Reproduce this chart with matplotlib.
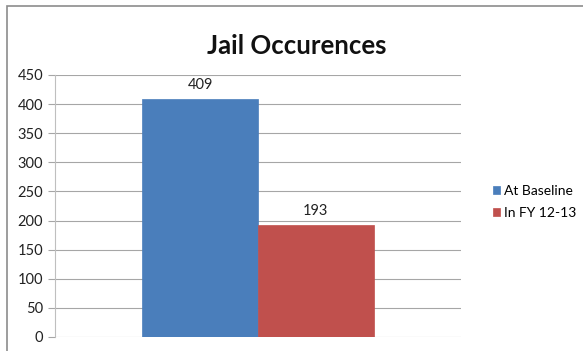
import matplotlib.pyplot as plt
from matplotlib.patches import Rectangle

# Jail occurrence counts
series = ["At Baseline", "In FY 12-13"]
values = [409, 193]
colors = ["#4a7ebb", "#c0504d"]
yticks = [0, 50, 100, 150, 200, 250, 300, 350, 400, 450]

plt.rcParams['font.family'] = ['Lato', 'DejaVu Sans']

fig = plt.figure(figsize=(5.83, 3.51), dpi=100)
fig.patch.set_facecolor("white")

# chart border
fig.add_artist(Rectangle((7 / 583, -0.05), 1.1, 1 - 6 / 351 + 0.05,
                         transform=fig.transFigure, fill=False,
                         edgecolor="#8c8c8c", linewidth=1.2))

ax = fig.add_axes([55 / 583, 1 - 337 / 351, (461 - 55) / 583, (337 - 75) / 351])

width = 0.57
offsets = [-width / 2, width / 2]
for name, v, c, off in zip(series, values, colors, offsets):
    ax.bar(off, v, width=width, color=c, edgecolor=c, linewidth=0.5, label=name, zorder=3)
    ax.annotate(str(v), (off, v), xytext=(0, 10), textcoords="offset points",
                ha="center", va="center", fontsize=10.5, color="#222222")

ax.set_xlim(-1, 1)
ax.set_ylim(0, 450)
ax.set_yticks(yticks)
ax.set_xticks([])
ax.grid(axis="y", color="#a6a6a6", linewidth=0.8, zorder=0)
ax.tick_params(axis="y", labelsize=10.5, length=5, color="#a6a6a6", labelcolor="#222222", pad=3.5)
for s in ["top", "right", "bottom"]:
    ax.spines[s].set_visible(False)
ax.spines["left"].set_color("#bfbfbf")
ax.spines["left"].set_linewidth(0.8)

fig.text(297 / 583, 1 - 46 / 351, "Jail Occurences", ha="center", va="center",
         fontsize=18.5, fontweight="bold", color="#111111")

fig.legend(loc="center left", bbox_to_anchor=(480 / 583, 1 - 202 / 351),
           frameon=False, fontsize=10, handlelength=0.55, handleheight=0.55,
           handletextpad=0.3, labelspacing=0.7)

fig.savefig("out.png", dpi=100)
